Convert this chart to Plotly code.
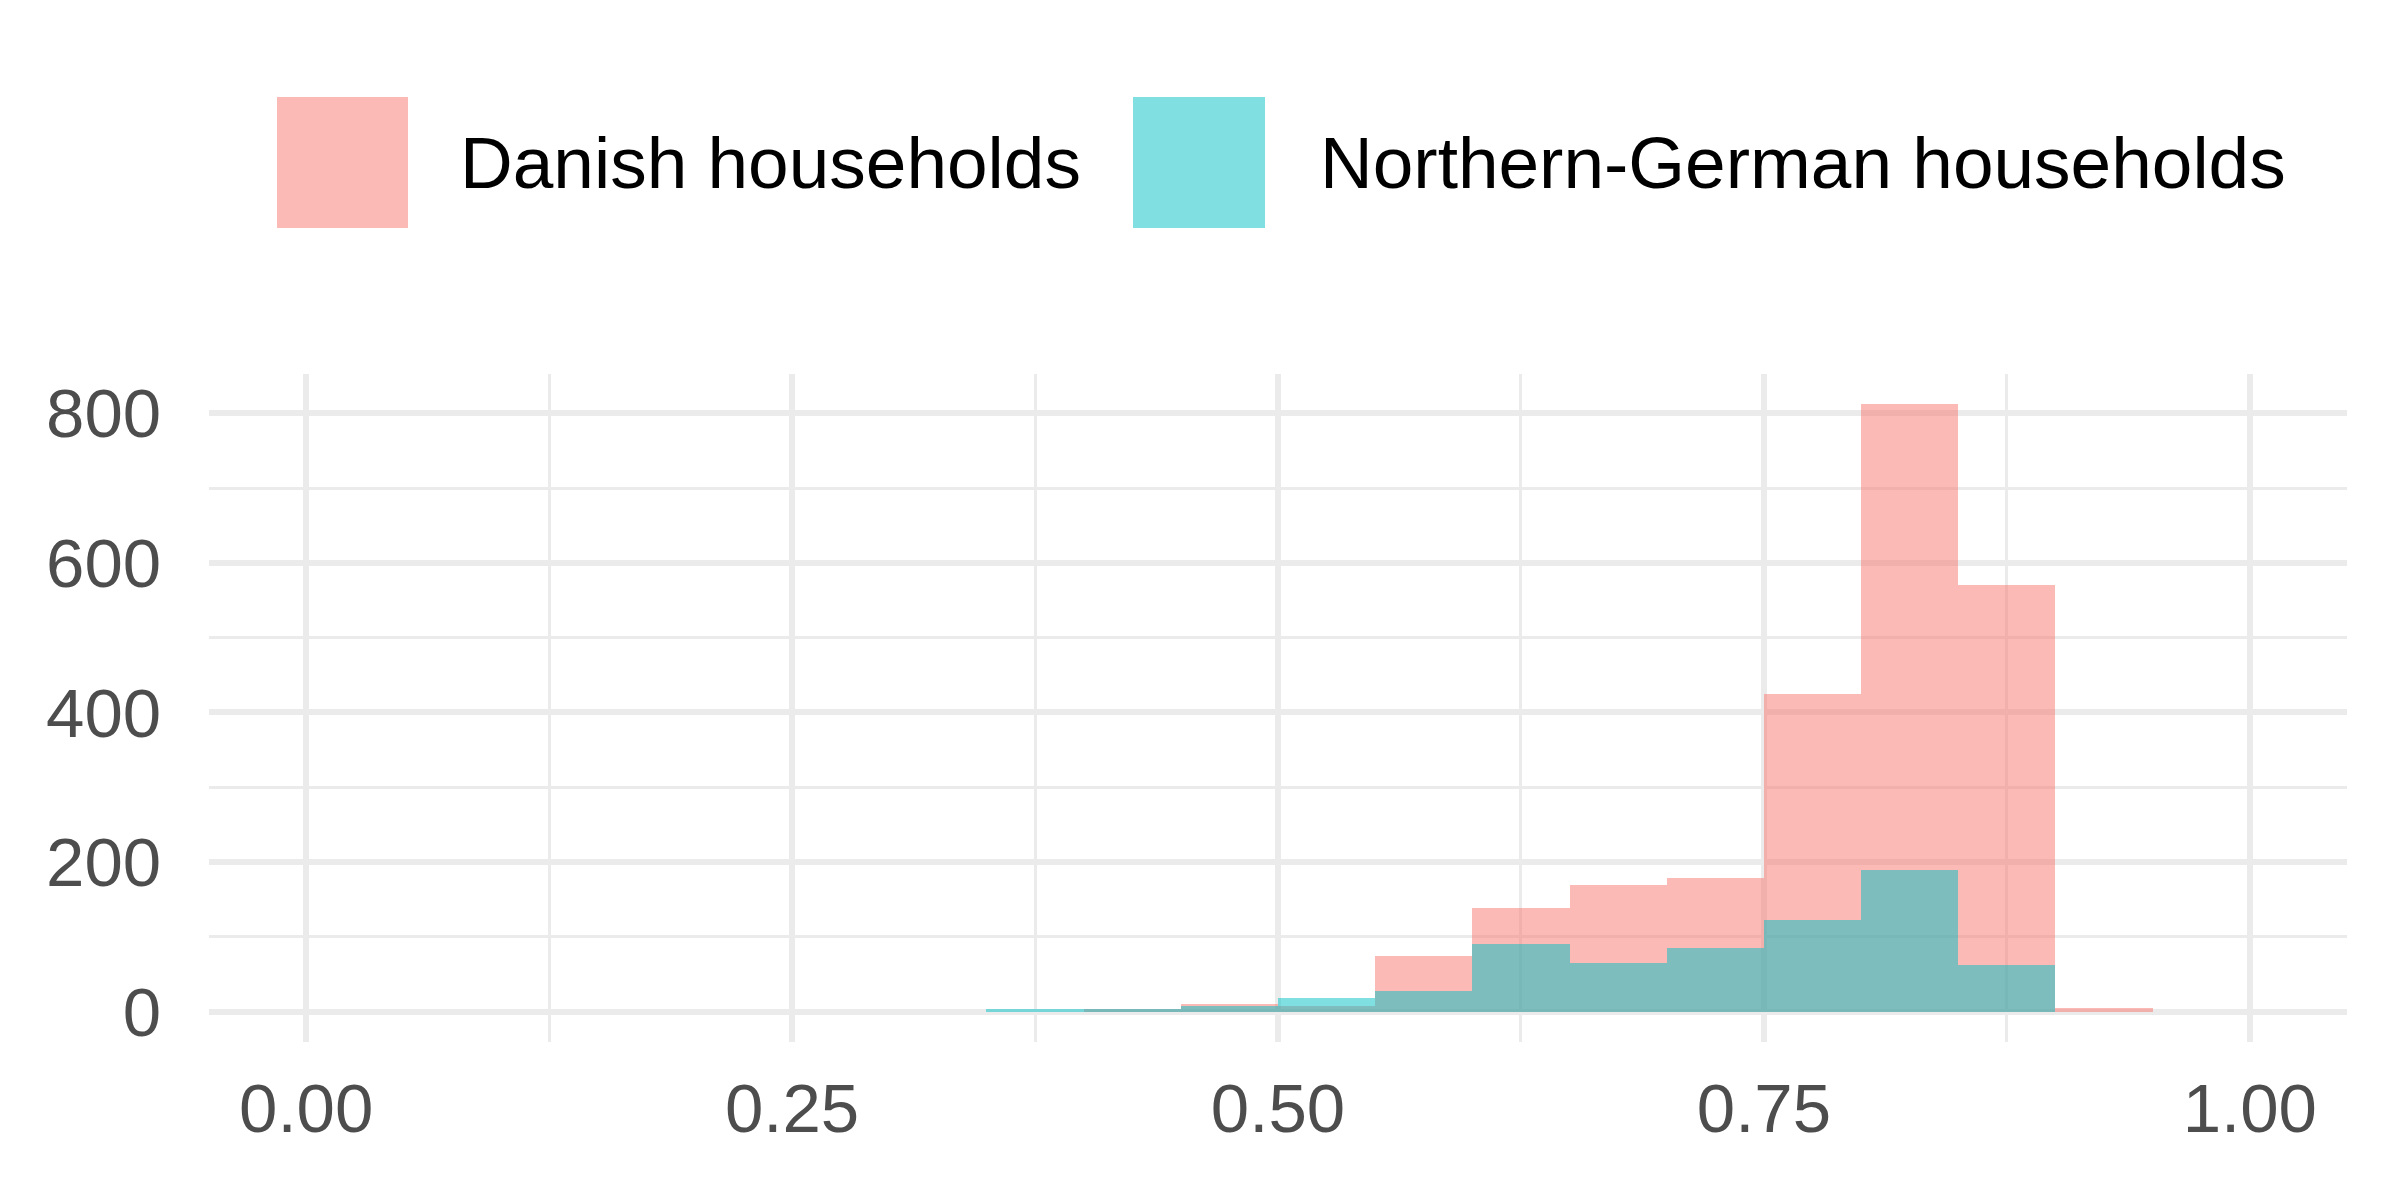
import plotly.graph_objects as go

# ---- data ----
bin_left = [0.35, 0.40, 0.45, 0.50, 0.55, 0.60, 0.65, 0.70, 0.75, 0.80, 0.85, 0.90]
bin_width = 0.05
danish = [0, 4, 10, 8, 74, 139, 170, 179, 425, 812, 570, 5]
german = [3, 3, 7, 18, 28, 90, 65, 85, 123, 190, 62, 0]
series_names = ["Danish households", "Northern-German households"]
x_ticks = [0.0, 0.25, 0.50, 0.75, 1.00]
x_tick_labels = ["0.00", "0.25", "0.50", "0.75", "1.00"]
y_ticks = [0, 200, 400, 600, 800]
y_tick_labels = ["0", "200", "400", "600", "800"]

# ---- layout geometry (page pixels; page body has an 8px margin) ----
W, H = 2392, 1196
OFF = 8
PL, PR, PT, PB = 209, 2347, 374, 1042  # desired plot-area edges on page
L, R, T, B = PL - OFF, W + OFF - PR, PT - OFF, H + OFF - PB
pw, ph = PR - PL, PB - PT

def px_x(p):
    return (p - PL) / pw

def px_y(p):
    return (PB - p) / ph

col_dk = "rgba(248,118,109,0.5)"
col_de = "rgba(0,191,196,0.5)"
FONT = "Liberation Sans, Arial, sans-serif"

fig = go.Figure()
fig.add_trace(go.Bar(x=bin_left, y=danish, width=bin_width, offset=0,
                     marker=dict(color=col_dk, line=dict(width=0)),
                     name=series_names[0], showlegend=False))
fig.add_trace(go.Bar(x=bin_left, y=german, width=bin_width, offset=0,
                     marker=dict(color=col_de, line=dict(width=0)),
                     name=series_names[1], showlegend=False))

# manual legend (large keys like ggplot)
keys = [(277, 408, 458, col_dk), (1133, 1265, 1318, col_de)]
for (x0, x1, tx, c), name in zip(keys, series_names):
    fig.add_shape(type="rect", xref="paper", yref="paper",
                  x0=px_x(x0), x1=px_x(x1), y0=px_y(228), y1=px_y(97),
                  fillcolor=c, line=dict(width=0), layer="above")
    fig.add_annotation(xref="paper", yref="paper", x=px_x(tx), y=px_y(162),
                       text=name, showarrow=False, xanchor="left", yanchor="middle",
                       font=dict(family=FONT, size=73, color="black"))

grid_major = "#EBEBEB"
fig.update_layout(
    width=W, height=H,
    margin=dict(l=L, r=R, t=T, b=B, pad=0),
    paper_bgcolor="white", plot_bgcolor="white",
    barmode="overlay", bargap=0,
    font=dict(family=FONT, size=69, color="#4D4D4D"),
    xaxis=dict(range=[-0.05, 1.05], tickvals=x_ticks, ticktext=x_tick_labels,
               showgrid=True, gridcolor=grid_major, gridwidth=5.5,
               minor=dict(dtick=0.125, tick0=0.125, showgrid=True, gridcolor=grid_major, gridwidth=2.8),
               zeroline=False, showline=False, automargin=False,
               ticks="outside", ticklen=6, tickcolor="rgba(0,0,0,0)",
               tickfont=dict(size=69, color="#4D4D4D")),
    yaxis=dict(range=[-40.6, 852.6], tickvals=y_ticks, ticktext=y_tick_labels,
               showgrid=True, gridcolor=grid_major, gridwidth=5.5,
               minor=dict(dtick=100, tick0=100, showgrid=True, gridcolor=grid_major, gridwidth=2.8),
               zeroline=False, showline=False, automargin=False,
               ticks="outside", ticklen=33, tickcolor="rgba(0,0,0,0)",
               tickfont=dict(size=69, color="#4D4D4D")),
)

fig.write_html("out.html")
